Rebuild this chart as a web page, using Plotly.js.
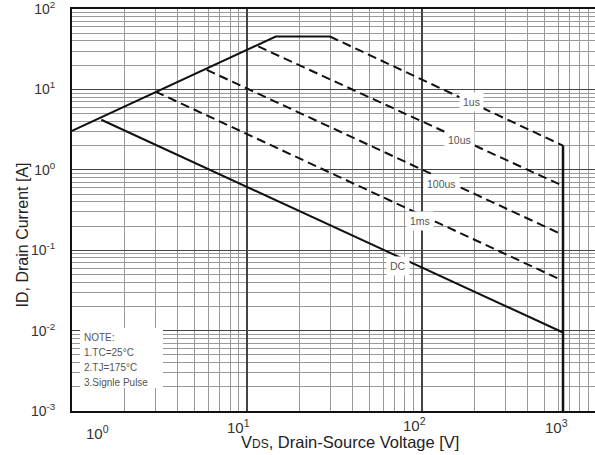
<!DOCTYPE html>
<html>
<head>
<meta charset="utf-8">
<script src="https://cdn.plot.ly/plotly-3.0.1.min.js"></script>
<style>html,body{margin:0;padding:0;background:#fff;}#chart{width:595px;height:455px;}</style>
</head>
<body>
<div id="chart"></div>
<script>
// ---- data (V in volts, I in amps) ----
var limitV = [1, 14.6, 29.8];
var limitI = [3.05, 45.5, 45.5];
var us1V = [29.8, 640];
var us1I = [45.5, 2.0];
var us10V = [11.6, 640];
var us10I = [34.2, 0.63];
var us100V = [5.89, 640];
var us100I = [17.5, 0.155];
var ms1V = [3.0, 640];
var ms1I = [9.4, 0.0416];
var dcV = [1.47, 640];
var dcI = [4.19, 0.00947];
var vmaxV = [640, 640];
var vmaxI = [2.0, 0.001];

var curveLabels = ["1us", "10us", "100us", "1ms", "DC"];
var yTickVals = [0.001, 0.01, 0.1, 1, 10, 100];
var yTickText = ["10<sup>-3</sup>", "10<sup>-2</sup>", "10<sup>-1</sup>", "10<sup>0</sup>", "10<sup>1</sup>", "10<sup>2</sup>"];
var xTickText = ["10<sup>0</sup>", "10<sup>1</sup>", "10<sup>2</sup>", "10<sup>3</sup>"];
var noteLines = ["NOTE:", "1.TC=25°C", "2.TJ=175°C", "3.Signle Pulse"];

var solid = {color: "#111", width: 2};
var dashed = {color: "#111", width: 2, dash: "9px,5px"};
function tr(x, y, line) {
  return {x: x, y: y, type: "scatter", mode: "lines", line: line, hoverinfo: "skip", showlegend: false};
}
var data = [
  tr(limitV, limitI, solid),
  tr(us1V, us1I, dashed),
  tr(us10V, us10I, dashed),
  tr(us100V, us100I, dashed),
  tr(ms1V, ms1I, dashed),
  tr(dcV, dcI, solid),
  tr(vmaxV, vmaxI, {color: "#111", width: 2.5})
];

var font = "Liberation Sans, Arial, sans-serif";
var ann = [];
// curve labels (log coords)
var lblPos = [[2.286, 0.846], [2.217, 0.373], [2.114, -0.174], [1.989, -0.634], [1.863, -1.194]];
curveLabels.forEach(function (t, i) {
  ann.push({text: t, x: lblPos[i][0], y: lblPos[i][1], xref: "x", yref: "y", showarrow: false,
    bgcolor: "#fff", borderpad: 3, font: {family: font, size: 10.5, color: "#555"}});
});
// x tick labels
var xLblPos = [[0.143, -21], [0.954, -15], [1.96, -13], [2.771, -15]];
xTickText.forEach(function (t, i) {
  ann.push({text: t, x: xLblPos[i][0], y: 0, xref: "x", yref: "paper", yshift: xLblPos[i][1],
    yanchor: "middle", showarrow: false, font: {family: font, size: 15, color: "#333"}});
});
// note lines
var noteY = [337, 352, 367, 382];
noteLines.forEach(function (t, i) {
  ann.push({text: t, x: (82 - 72) / 523, y: (411 - noteY[i]) / 402, xref: "paper", yref: "paper",
    xanchor: "left", yanchor: "middle", showarrow: false, font: {family: font, size: 10, color: "#555"}});
});
// axis titles
ann.push({text: "V<span style=\"font-size:12px\">DS</span>, Drain-Source Voltage [V]", x: 0.5315, y: 0, xref: "paper", yref: "paper",
  yshift: -31, yanchor: "middle", showarrow: false, font: {family: font, size: 16.5, color: "#222"}});
ann.push({text: "ID, Drain Current [A]", x: 0, y: 0.438, xref: "paper", yref: "paper", xshift: -60,
  textangle: -90, showarrow: false, font: {family: font, size: 16, color: "#222"}});

var layout = {
  width: 595, height: 455,
  margin: {l: 72, r: 0, t: 9, b: 44},
  paper_bgcolor: "#fff", plot_bgcolor: "#fff",
  showlegend: false,
  xaxis: {
    type: "log", range: [0, 2.989], dtick: 1, showticklabels: false, ticks: "",
    showgrid: true, gridcolor: "#444", gridwidth: 1.2, zeroline: false,
    showline: true, linecolor: "#111", linewidth: 2, mirror: true,
    minor: {dtick: "D1", showgrid: true, gridcolor: "#999", gridwidth: 1, ticks: ""}
  },
  yaxis: {
    type: "log", range: [-3, 2], tickvals: yTickVals, ticktext: yTickText, ticks: "",
    ticklabelstandoff: 12, ticklabeloverflow: "allow",
    tickfont: {family: font, size: 14, color: "#333"},
    showgrid: true, gridcolor: "#444", gridwidth: 1.2, zeroline: false,
    showline: true, linecolor: "#111", linewidth: 2,
    minor: {dtick: "D1", showgrid: true, gridcolor: "#999", gridwidth: 1, ticks: ""}
  },
  shapes: [{type: "rect", xref: "paper", yref: "paper", x0: (80 - 72) / 523, x1: (163 - 72) / 523,
    y0: (411 - 388) / 402, y1: (411 - 328) / 402, fillcolor: "#fff", line: {width: 0}, layer: "above"}],
  annotations: ann
};
Plotly.newPlot("chart", data, layout, {staticPlot: true, displayModeBar: false});
</script>
</body>
</html>
